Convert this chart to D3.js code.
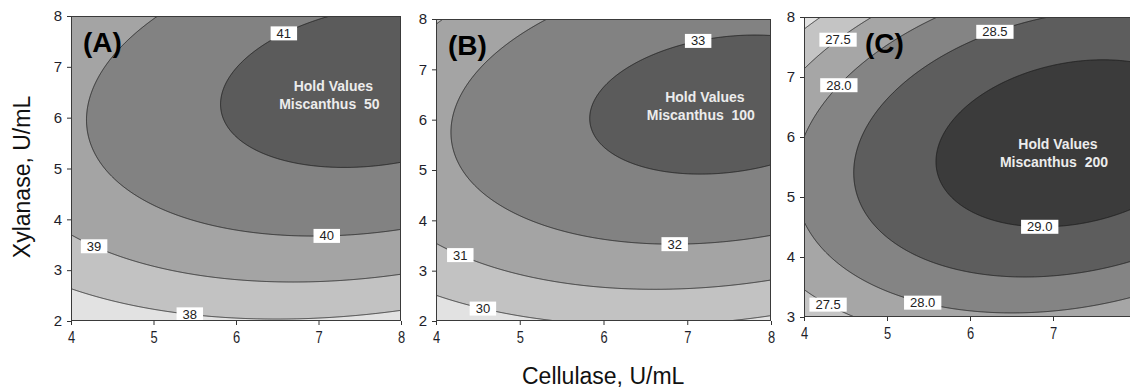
<!DOCTYPE html>
<html>
<head>
<meta charset="utf-8">
<script src="https://cdn.jsdelivr.net/npm/d3@7"></script>
<style>
  body { margin: 0; background: #fff; }
  svg { display: block; font-family: Arial, "Liberation Sans", sans-serif; }
</style>
</head>
<body>
<div id="chart"></div>
<script>
// response surfaces, one per hold value of Miscanthus
const panelNames = ['(A)', '(B)', '(C)'];
const miscanthus = [50, 100, 200];
const peakValue = [41.42, 33.33, 29.32];
const optimumCellulase = [7.75, 7.48, 7.24];
const optimumXylanase = [6.63, 6.30, 5.895];
const curveCellulase = [0.118, 0.127, 0.1235];
const curveXylanase = [0.171, 0.18, 0.1735];
const interaction = [-0.0323, -0.030, -0.0321];

const contourLevels = [
  [38, 39, 40, 41],
  [30, 31, 32, 33],
  [27, 27.5, 28, 28.5, 29]
];
const bandColors = [
  ['#e2e2e2', '#c2c2c2', '#a4a4a4', '#828282', '#5b5b5b'],
  ['#e2e2e2', '#c2c2c2', '#a4a4a4', '#828282', '#5b5b5b'],
  ['#e2e2e2', '#c4c4c4', '#a6a6a6', '#848484', '#5d5d5d', '#3b3b3b']
];

// contour labels: level, cellulase where it sits, branch of the contour
const labelLevels = [[41, 40, 39, 38], [33, 32, 31, 30], [27.5, 28, 28.5, 29, 28, 27.5]];
const labelCellulase = [[6.58, 7.1, 4.28, 5.44], [7.13, 6.85, 4.29, 4.56], [4.41, 4.42, 6.3, 6.84, 5.43, 4.29]];
const labelBranch = [['up', 'low', 'low', 'low'], ['up', 'low', 'low', 'low'], ['up', 'up', 'up', 'low', 'low', 'low']];
const labelText = [['41', '40', '39', '38'], ['33', '32', '31', '30'], ['27.5', '28.0', '28.5', '29.0', '28.0', '27.5']];

const cellulaseDomain = [4, 8];
const cellulaseTicks = [[4, 5, 6, 7, 8], [4, 5, 6, 7, 8], [4, 5, 6, 7]];
const xylanaseDomains = [[2, 8], [2, 8], [3, 8]];
const xylanaseTicks = [[2, 3, 4, 5, 6, 7, 8], [2, 3, 4, 5, 6, 7, 8], [3, 4, 5, 6, 7, 8]];
const holdAt = [[7.18, 6.52], [7.21, 6.35], [7.06, 5.8]];

const width = 1130;
const height = 391;
const frames = [
  { left: 71, right: 401, top: 16, bottom: 321 },
  { left: 436, right: 771, top: 19, bottom: 321 },
  { left: 804, right: 1136, top: 17, bottom: 317 }
];

const svg = d3.select('#chart')
  .append('svg')
  .attr('width', width)
  .attr('height', height);

function surface(p, x, y) {
  const u = x - optimumCellulase[p];
  const v = y - optimumXylanase[p];
  return peakValue[p] - (curveCellulase[p] * u * u + 2 * interaction[p] * u * v + curveXylanase[p] * v * v);
}

// xylanase on a contour for a given cellulase
function contourY(p, level, x, branch) {
  const u = x - optimumCellulase[p];
  const k = peakValue[p] - level;
  const a = curveXylanase[p];
  const b = 2 * interaction[p] * u;
  const c = curveCellulase[p] * u * u - k;
  const disc = Math.sqrt(Math.max(0, b * b - 4 * a * c));
  const v = branch === 'up' ? (-b + disc) / (2 * a) : (-b - disc) / (2 * a);
  return optimumXylanase[p] + v;
}

frames.forEach((f, p) => {
  const w = f.right - f.left;
  const h = f.bottom - f.top;
  const x = d3.scaleLinear().domain(cellulaseDomain).range([f.left, f.right]);
  const y = d3.scaleLinear().domain(xylanaseDomains[p]).range([f.bottom, f.top]);

  const g = svg.append('g');
  g.append('clipPath')
    .attr('id', 'clip' + p)
    .append('rect')
    .attr('x', f.left).attr('y', f.top)
    .attr('width', w).attr('height', h);

  const plot = g.append('g').attr('clip-path', `url(#clip${p})`);

  const n = w, m = h;
  const values = new Array(n * m);
  for (let j = 0; j < m; j++) {
    const yy = y.invert(f.top + (j + 0.5) * h / m);
    for (let i = 0; i < n; i++) {
      values[i + j * n] = surface(p, x.invert(f.left + (i + 0.5) * w / n), yy);
    }
  }

  const levels = contourLevels[p];
  const contours = d3.contours().size([n, m]).thresholds(levels)(values);
  const path = d3.geoPath(d3.geoTransform({
    point: function (px, py) { this.stream.point(f.left + px * w / n, f.top + py * h / m); }
  }));

  plot.append('rect')
    .attr('x', f.left).attr('y', f.top)
    .attr('width', w).attr('height', h)
    .attr('fill', bandColors[p][0]);

  plot.selectAll('path.band')
    .data(contours)
    .enter()
    .append('path')
    .attr('class', 'band')
    .attr('d', path)
    .attr('fill', (d, i) => bandColors[p][i + 1])
    .attr('stroke', '#1a1a1a')
    .attr('stroke-width', 0.8);

  // frame
  g.append('rect')
    .attr('x', f.left + 0.5).attr('y', f.top + 0.5)
    .attr('width', w - 1).attr('height', h - 1)
    .attr('fill', 'none')
    .attr('stroke', '#3a3a3a')
    .attr('stroke-width', 1);

  // contour labels
  labelLevels[p].forEach((lv, i) => {
    const cx = x(labelCellulase[p][i]);
    const cy = y(contourY(p, lv, labelCellulase[p][i], labelBranch[p][i]));
    const t = plot.append('text')
      .attr('x', cx).attr('y', cy + 4.5)
      .attr('text-anchor', 'middle')
      .style('font-size', '13px')
      .style('fill', '#222')
      .text(labelText[p][i]);
    const bw = t.node().getComputedTextLength() + 12;
    plot.insert('rect', () => t.node())
      .attr('x', cx - bw / 2).attr('y', cy - 7)
      .attr('width', bw).attr('height', 14)
      .attr('fill', '#fff');
  });

  // hold values note
  const hx = x(holdAt[p][0]);
  const hy = y(holdAt[p][1]);
  plot.append('text')
    .attr('x', hx).attr('y', hy)
    .attr('text-anchor', 'middle')
    .style('font-size', '14px')
    .style('font-weight', 'bold')
    .style('fill', '#ececec')
    .text('Hold Values');
  plot.append('text')
    .attr('x', hx - 4).attr('y', hy + 18)
    .attr('text-anchor', 'middle')
    .style('font-size', '14px')
    .style('font-weight', 'bold')
    .style('fill', '#ececec')
    .style('white-space', 'pre')
    .text('Miscanthus  ' + miscanthus[p]);

  plot.append('text')
    .attr('x', f.left + (p === 2 ? 61 : 12))
    .attr('y', f.top + 36)
    .style('font-size', '28px')
    .style('font-weight', 'bold')
    .style('fill', '#000')
    .text(panelNames[p]);

  // axes
  const xAxis = g.append('g')
    .attr('transform', `translate(0,${f.bottom})`)
    .call(d3.axisBottom(x).tickValues(cellulaseTicks[p]).tickFormat(d3.format('d')).tickSize(4).tickPadding(6));
  xAxis.select('.domain').remove();
  xAxis.selectAll('line').attr('stroke', '#333');
  xAxis.selectAll('text')
    .attr('transform', 'scale(0.76,1)')
    .style('font-size', '17px')
    .style('fill', '#1e1e2a');

  const yAxis = g.append('g')
    .attr('transform', `translate(${f.left},0)`)
    .call(d3.axisLeft(y).tickValues(xylanaseTicks[p]).tickFormat(d3.format('d')).tickSize(4).tickPadding(5));
  yAxis.select('.domain').remove();
  yAxis.selectAll('line').attr('stroke', '#333');
  yAxis.selectAll('text')
    .style('font-size', '15px')
    .style('fill', '#1e1e2a');
});

svg.append('text')
  .attr('x', 522)
  .attr('y', 384)
  .style('font-size', '23px')
  .style('fill', '#111')
  .text('Cellulase, U/mL');

svg.append('text')
  .attr('transform', 'translate(30,177) rotate(-90)')
  .attr('text-anchor', 'middle')
  .style('font-size', '23px')
  .style('fill', '#111')
  .text('Xylanase, U/mL');
</script>
</body>
</html>
